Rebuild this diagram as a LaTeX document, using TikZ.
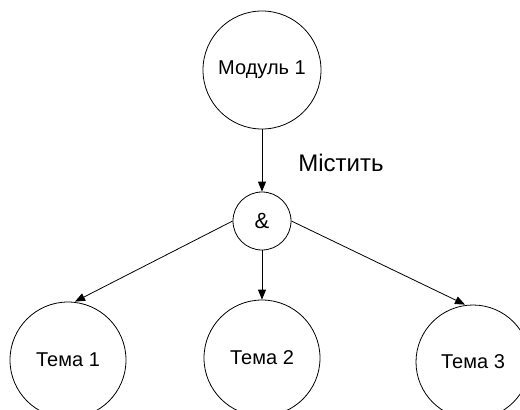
\documentclass[tikz,border=0pt]{standalone}
\usepackage{fontspec}
\setmainfont{Liberation Sans}
\usetikzlibrary{arrows.meta}
\begin{document}
\begin{tikzpicture}[x=1pt,y=-1pt,
  bubble/.style={draw,circle,inner sep=0pt,line width=0.8pt,font=\fontsize{20}{22}\selectfont},
  link/.style={line width=0.8pt,-{Triangle[length=10pt,width=8pt]}}]
\useasboundingbox (0,0) rectangle (520,410);
\begin{scope}
\clip (0,0) rectangle (520,410);
\node[bubble,minimum size=118pt] (m) at (262,70) {Модуль 1};
\node[bubble,minimum size=58pt,font=\fontsize{22}{24}\selectfont] (amp) at (262,221) {\&};
\node[bubble,minimum size=116pt] (t1) at (68,360) {Тема 1};
\node[bubble,minimum size=116pt] (t2) at (262,358) {Тема 2};
\node[bubble,minimum size=114pt] (t3) at (473,362) {Тема 3};
\end{scope}
\node[font=\fontsize{24}{26}\selectfont] (lbl) at (341,163) {Містить};
\draw[link] (m.south) -- (amp.north);
\draw[link] (amp.west) -- ([xshift=7pt]t1.north);
\draw[link] (amp.south) -- (t2.north);
\draw[link] (amp.east) -- ([xshift=-8pt]t3.north);
\end{tikzpicture}
\end{document}
